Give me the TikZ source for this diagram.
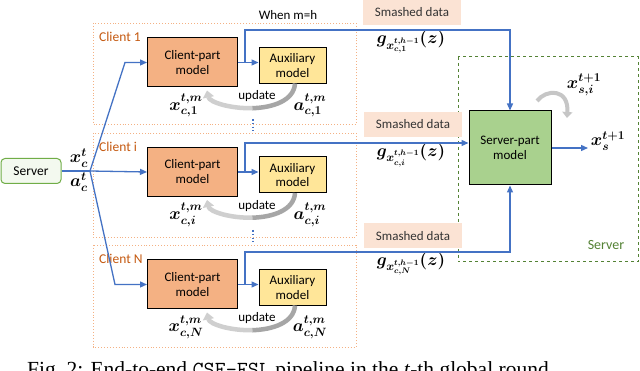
\documentclass[tikz,border=0pt]{standalone}
\usepackage{amsmath,bm}
\usepackage{fontspec}
\setmainfont{Carlito}
\newfontfamily\capfont{Liberation Serif}
\usetikzlibrary{arrows.meta}
\definecolor{flowblue}{HTML}{4472C4}
\definecolor{cporange}{HTML}{F4B183}
\definecolor{auxyellow}{HTML}{FFE699}
\definecolor{srvgreen}{HTML}{A9D18E}
\definecolor{dkgreen}{HTML}{548235}
\definecolor{clientorange}{HTML}{C55A11}
\definecolor{dotorange}{HTML}{F4B183}
\definecolor{smashfill}{HTML}{FBE3D4}
\definecolor{srvborder}{HTML}{70AD47}
\definecolor{srvfill}{HTML}{F3F9EF}
\begin{document}
\begin{tikzpicture}[x=1pt,y=-1pt,
  flow/.style={draw=flowblue,line width=1.3pt},
  flowarrow/.style={flow,-{Triangle[length=7pt,width=6pt]}},
  cpbox/.style={draw=black,line width=1pt,fill=cporange,minimum width=90pt,minimum height=49pt,align=center,font=\fontsize{13}{15}\selectfont,inner sep=0pt},
  auxbox/.style={draw=black,line width=1pt,fill=auxyellow,minimum width=67pt,minimum height=36pt,align=center,font=\fontsize{13}{14.5}\selectfont,inner sep=0pt},
  clientbox/.style={draw=dotorange,dotted,line width=0.9pt},
  clientlbl/.style={text=clientorange,font=\fontsize{13.5}{14}\selectfont,anchor=west,inner sep=0pt},
  smash/.style={fill=smashfill,minimum width=98pt,minimum height=25pt,font=\fontsize{13}{14}\selectfont,text=black!80,inner sep=0pt},
  mlbl/.style={inner sep=0pt,font=\fontsize{17}{19}\selectfont},
  upd/.style={font=\fontsize{13}{14}\selectfont,inner sep=0pt},
  updarc/.style={line width=4.5pt},
]
\fill[white] (0,0) rectangle (640,371);
\useasboundingbox (0,0) rectangle (640,371);

% server (left)
\node[draw=srvborder,fill=srvfill,line width=1pt,rounded corners=4pt,minimum width=60pt,minimum height=25pt,inner sep=0pt,font=\fontsize{13.5}{14}\selectfont] (server) at (31,171) {Server};
\node[mlbl] (xct) at (79,158) {$\bm{x_c^t}$};
\node[mlbl] (act) at (79,182) {$\bm{a_c^t}$};
\coordinate (br) at (90,171);

% server (right)
\draw[dkgreen,dashed,line width=1pt] (458,57) rectangle (638,262);
\node[text=dkgreen,font=\fontsize{14}{15}\selectfont,inner sep=0pt] (srvlbl) at (606,245) {Server};
\node[draw=black,line width=1pt,fill=srvgreen,minimum width=82pt,minimum height=74pt,align=center,inner sep=0pt,font=\fontsize{13}{15}\selectfont] (srv) at (510,148) {Server-part\\model};
\coordinate (xsend) at (588,148);
\draw[flowarrow] (srv.east) -- (xsend);
\node[mlbl] (xs) at (608,141) {$\bm{x_s^{t+1}}$};
\draw[gray!45,line width=4pt,-{Triangle[length=6pt,width=10pt]}] (537,101) .. controls (546,89) and (569,88) .. (567,118);
\node[mlbl] (xsi) at (584,85) {$\bm{x_{s,i}^{t+1}}$};

\node[font=\fontsize{13}{14}\selectfont,inner sep=0pt] (when) at (288,15) {When m=h};

% clients
\foreach \k/\top/\bot/\cy/\sy in {1/23/124/62.5/30, i/133/237/172/143, N/245/347/284.5/252}{
  \draw[clientbox] (93,\top) rectangle (356,\bot);
  \node[clientlbl] (cl\k) at (99,\top+14) {Client \k};
  \node[cpbox] (cp\k) at (192.5,\cy) {Client-part\\model};
  \node[auxbox] (aux\k) at (292.5,\cy+3) {Auxiliary\\model};
  \draw[flowarrow] (cp\k.east) -- (cp\k.east -| aux\k.west);
  \coordinate (t\k) at (245,\cy);
  \coordinate (s\k) at (245,\sy);
  \node[mlbl] (x\k) at (186,\cy+43) {$\bm{x_{c,\k}^{t,m}}$};
  \node[mlbl] (a\k) at (310,\cy+43) {$\bm{a_{c,\k}^{t,m}}$};
  \node[upd] (u\k) at (257,\cy+34) {update};
  \node[mlbl] (g\k) at (411,\sy+12) {$\bm{g_{x_{c,\k}^{t,h-1}}(z)}$};
  % update arc in two tones
  \draw[updarc,gray!70] (295,\cy+21) .. controls (294,\cy+38) and (273,\cy+45.2) .. (252,\cy+45.7);
  \draw[updarc,gray!38,-{Triangle[length=7pt,width=11pt]}] (252.5,\cy+45.7) .. controls (231,\cy+46.2) and (209.5,\cy+40) .. (207,\cy+28);
}
\node[smash] (sm1) at (412,12.5) {Smashed data};
\node[smash] (smi) at (413,124.5) {Smashed data};
\node[smash] (smN) at (413,236) {Smashed data};

% flows from server to clients
\draw[flow] (server.east) -- (br);
\draw[flowarrow] (br) -- (125,62.5) -- (cp1.west);
\draw[flowarrow] (br) -- (cpi.west);
\draw[flowarrow] (br) -- (115,284.5) -- (cpN.west);

% flows from clients to server
\coordinate (c1) at (510,30);
\draw[flowarrow] (t1) -- (s1) -- (c1) -- (c1 |- srv.north);
\draw[flowarrow] (ti) -- (si) -- (si -| srv.west);
\coordinate (cN) at (510,252);
\draw[flowarrow] (tN) -- (sN) -- (cN) -- (cN |- srv.south);

% vertical dots
\draw[flowblue,line width=1.6pt,dash pattern=on 1.6pt off 2.2pt] (253,119) -- (253,131);
\draw[flowblue,line width=1.6pt,dash pattern=on 1.6pt off 2.2pt] (253,230) -- (253,242);

% caption
\node[anchor=base west,inner sep=0pt,font=\capfont\fontsize{21.5}{23}\selectfont] (cap) at (27,376.5) {Fig.~2: End-to-end \texttt{CSE-FSL} pipeline in the \textit{t}-th global round.};
\end{tikzpicture}
\end{document}
